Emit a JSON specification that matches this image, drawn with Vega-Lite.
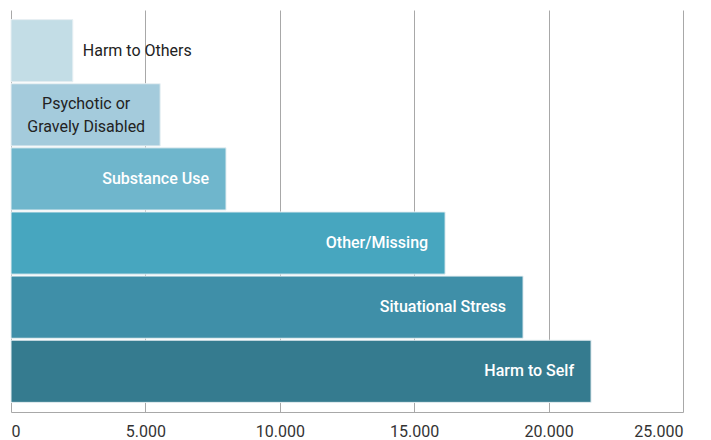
{
  "$schema": "https://vega.github.io/schema/vega-lite/v6.json",
  "width": 672,
  "height": 402,
  "padding": {"left": 10, "top": 10, "right": 5, "bottom": 5},
  "background": "white",
  "data": {"values": [
    {"category": "Harm to Others", "label": "Harm to Others", "value": 2300},
    {"category": "Psychotic or Gravely Disabled", "label": "Psychotic or\nGravely Disabled", "value": 5550},
    {"category": "Substance Use", "label": "Substance Use", "value": 8000},
    {"category": "Other/Missing", "label": "Other/Missing", "value": 16150},
    {"category": "Situational Stress", "label": "Situational Stress", "value": 19050},
    {"category": "Harm to Self", "label": "Harm to Self", "value": 21580}
  ]},
  "encoding": {
    "y": {"field": "category", "type": "nominal", "sort": null, "axis": null,
          "scale": {"paddingInner": 0.03, "paddingOuter": 0.15}},
    "x": {"field": "value", "type": "quantitative",
          "scale": {"domain": [0, 25000], "nice": false},
          "axis": {"values": [0, 5000, 10000, 15000, 20000, 25000], "title": null,
                   "labelExpr": "replace(format(datum.value, ','), ',', '.')",
                   "grid": true, "gridColor": "#a8a8a8", "gridWidth": 1,
                   "domainColor": "#a8a8a8", "ticks": false,
                   "labelFont": "Roboto", "labelFontSize": 16, "labelColor": "#333333",
                   "labelPadding": 11}}
  },
  "layer": [
    {"mark": {"type": "bar", "stroke": "#e8f0f3", "strokeWidth": 1},
     "encoding": {"color": {"field": "category", "type": "nominal", "legend": null,
        "scale": {"domain": ["Harm to Others", "Psychotic or Gravely Disabled", "Substance Use", "Other/Missing", "Situational Stress", "Harm to Self"],
                  "range": ["#c3dde6", "#a4cbdc", "#6fb6cc", "#47a6bf", "#3f8fa8", "#357b8f"]}}}},
    {"transform": [{"filter": "datum.value > 7000"}],
     "mark": {"type": "text", "align": "right", "dx": -17, "font": "Roboto", "fontSize": 16, "fontWeight": 500, "fill": "white"},
     "encoding": {"text": {"field": "label"}}},
    {"transform": [{"filter": "datum.category == 'Harm to Others'"}],
     "mark": {"type": "text", "align": "left", "dx": 10, "font": "Roboto", "fontSize": 16, "fill": "#222222"},
     "encoding": {"text": {"field": "label"}}},
    {"transform": [{"filter": "datum.category == 'Psychotic or Gravely Disabled'"}],
     "mark": {"type": "text", "align": "center", "dx": -74, "dy": -11, "font": "Roboto", "fontSize": 16, "fill": "#222222", "lineBreak": "\n", "lineHeight": 23},
     "encoding": {"text": {"field": "label"}}}
  ],
  "config": {"view": {"stroke": null}}
}
